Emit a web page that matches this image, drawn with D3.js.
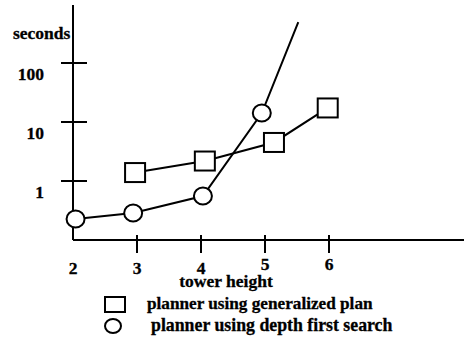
<!DOCTYPE html>
<html>
<head>
<meta charset="utf-8">
<script src="https://cdn.jsdelivr.net/npm/d3@7"></script>
<style>
  body { margin: 0; background: #fff; }
  text { font-family: "Liberation Serif", "Times New Roman", serif; font-weight: bold; fill: #000; stroke: #000; stroke-width: 0.3px; }
</style>
</head>
<body>
<div id="chart"></div>
<script>
// tower heights on the x axis
var xTicks = [2, 3, 4, 5, 6];
var yTicks = [1, 10, 100];
var yTickLabels = ["1", "10", "100"];

// planner using generalized plan (squares)
var genX = [2.97, 4.06, 5.14, 5.98];
var genY = [1.39, 2.18, 4.5, 17.3];

// planner using depth first search (circles)
var dfsX = [2.04, 2.94, 4.03, 4.95];
var dfsY = [0.227, 0.287, 0.557, 14.2];
// line keeps going up past the last circle
var dfsTailX = 5.52;
var dfsTailY = 495;

var legendLabels = ["planner using generalized plan", "planner using depth first search"];

var width = 464, height = 341;

var svg = d3.select("#chart")
    .append("svg")
    .attr("width", width)
    .attr("height", height);

var x = d3.scaleLinear()
    .domain([2, 6])
    .range([73, 329]);

var y = d3.scaleLog()
    .domain([0.1, 1000])
    .range([240, 4]);

// axes
svg.append("line")
    .attr("x1", x(2)).attr("x2", width)
    .attr("y1", y(0.1)).attr("y2", y(0.1))
    .attr("stroke", "#000").attr("stroke-width", 2);

svg.append("line")
    .attr("x1", x(2)).attr("x2", x(2))
    .attr("y1", y(0.1)).attr("y2", 5)
    .attr("stroke", "#000").attr("stroke-width", 2);

// x ticks (none at 2, the y axis sits there)
svg.selectAll("line.xtick")
    .data(xTicks.slice(1))
  .enter().append("line")
    .attr("class", "xtick")
    .attr("x1", function(d) { return x(d); })
    .attr("x2", function(d) { return x(d); })
    .attr("y1", y(0.1) - 5)
    .attr("y2", y(0.1) + 13)
    .attr("stroke", "#000").attr("stroke-width", 2);

svg.selectAll("text.xlabel")
    .data(xTicks)
  .enter().append("text")
    .attr("class", "xlabel")
    .attr("x", function(d) { return x(d); })
    .attr("y", function(d) { return d >= 5 ? 270 : 274; })
    .attr("text-anchor", "middle")
    .style("font-size", "17.5px")
    .text(function(d) { return d; });

svg.append("text")
    .attr("x", 226)
    .attr("y", 287)
    .attr("text-anchor", "middle")
    .style("font-size", "17.5px")
    .text("tower height");

// y ticks
svg.selectAll("line.ytick")
    .data(yTicks)
  .enter().append("line")
    .attr("class", "ytick")
    .attr("x1", x(2) - 12)
    .attr("x2", x(2) + 14)
    .attr("y1", function(d) { return y(d); })
    .attr("y2", function(d) { return y(d); })
    .attr("stroke", "#000").attr("stroke-width", 2);

svg.selectAll("text.ylabel")
    .data(yTicks)
  .enter().append("text")
    .attr("class", "ylabel")
    .attr("x", 44)
    .attr("y", function(d) { return y(d) + 17; })
    .attr("text-anchor", "end")
    .style("font-size", "17.5px")
    .text(function(d, i) { return yTickLabels[i]; });

svg.append("text")
    .attr("x", 13)
    .attr("y", 39)
    .style("font-size", "17.5px")
    .text("seconds");

// lines
var line = d3.line()
    .x(function(d) { return x(d[0]); })
    .y(function(d) { return y(d[1]); });

var genPts = d3.zip(genX, genY);
var dfsPts = d3.zip(dfsX, dfsY);

svg.append("path")
    .attr("d", line(genPts))
    .attr("fill", "none").attr("stroke", "#000").attr("stroke-width", 2);

svg.append("path")
    .attr("d", line(dfsPts.concat([[dfsTailX, dfsTailY]])))
    .attr("fill", "none").attr("stroke", "#000").attr("stroke-width", 2);

// markers
svg.selectAll("rect.gen")
    .data(genPts)
  .enter().append("rect")
    .attr("class", "gen")
    .attr("x", function(d) { return x(d[0]) - 10; })
    .attr("y", function(d) { return y(d[1]) - 9.5; })
    .attr("width", 20).attr("height", 19)
    .attr("fill", "#fff").attr("stroke", "#000").attr("stroke-width", 2);

svg.selectAll("ellipse.dfs")
    .data(dfsPts)
  .enter().append("ellipse")
    .attr("class", "dfs")
    .attr("cx", function(d) { return x(d[0]); })
    .attr("cy", function(d) { return y(d[1]); })
    .attr("rx", 9).attr("ry", 8.5)
    .attr("fill", "#fff").attr("stroke", "#000").attr("stroke-width", 2);

// legend
svg.append("rect")
    .attr("x", 105).attr("y", 297)
    .attr("width", 20).attr("height", 15)
    .attr("fill", "#fff").attr("stroke", "#000").attr("stroke-width", 2);

svg.append("ellipse")
    .attr("cx", 113).attr("cy", 326)
    .attr("rx", 8).attr("ry", 7)
    .attr("fill", "#fff").attr("stroke", "#000").attr("stroke-width", 2);

svg.append("text")
    .attr("x", 147).attr("y", 309)
    .style("font-size", "17.2px")
    .text(legendLabels[0]);

svg.append("text")
    .attr("x", 151).attr("y", 331)
    .style("font-size", "17.8px")
    .text(legendLabels[1]);
</script>
</body>
</html>
